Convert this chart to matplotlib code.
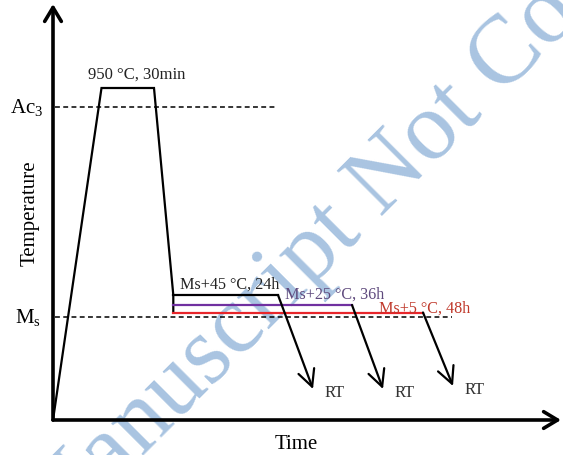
import matplotlib
matplotlib.use("Agg")
import matplotlib.pyplot as plt

plt.rcParams['font.family'] = ['Liberation Serif', 'DejaVu Serif']
plt.rcParams['mathtext.fontset'] = 'custom'
plt.rcParams['mathtext.rm'] = 'Liberation Serif'

# heat treatment schedule (schematic units: time -> right, temperature -> up)
heat_time = [0, 48.5, 101, 120.3, 120.3]
heat_temp = [0, 332, 332, 125, 107.5]

ac3_temp = 313
ms_temp = 103

hold_start = 120.3
hold_temp = [125, 115, 107.5]
hold_end = [225, 299, 370]
hold_colors = ['black', '#7030a0', '#e8262b']
hold_labels = ['Ms+45 °C, 24h', 'Ms+25 °C, 36h', 'Ms+5 °C, 48h']
label_colors = ['#222222', '#5f4a7d', '#c0392b']

rt_time = [260, 330, 400]
rt_temp = [31, 31, 34]

fig = plt.figure(figsize=(5.63, 4.56), dpi=100)
ax = fig.add_axes([0, 0, 1, 1])
ax.set_xlim(-53, 510)
ax.set_ylim(-35, 421)
ax.axis('off')

# watermark
ax.text(-3, -127, 'Manuscript Not Copyedited', rotation=45, rotation_mode='anchor',
        ha='left', va='baseline', fontsize=70, color='#a9c4e1', zorder=0)

# axes with arrows
arrow_axis = dict(arrowstyle='->,head_length=0.5,head_width=0.3', lw=2.6, color='black',
                  shrinkA=0, shrinkB=0, mutation_scale=20)
ax.annotate('', xy=(0, 416), xytext=(0, 0), arrowprops=arrow_axis)
ax.annotate('', xy=(508, 0), xytext=(0, 0), arrowprops=arrow_axis)

# critical temperatures
ax.plot([2, 222], [ac3_temp, ac3_temp], ls=(0, (3.2, 2.2)), color='black', lw=1.1)
ax.plot([2, 399], [ms_temp, ms_temp], ls=(0, (3.2, 2.2)), color='black', lw=1.1)

# austenitizing + quench
ax.plot(heat_time, heat_temp, color='black', lw=1.6, solid_joinstyle='miter')

# isothermal holds (longest first so the shorter ones sit on top)
for t, T, c in list(zip(hold_end, hold_temp, hold_colors))[::-1]:
    ax.plot([hold_start, t], [T, T], color=c, lw=1.6)

# cooling to room temperature
for t0, T0, t1, T1 in zip(hold_end, hold_temp, rt_time, rt_temp):
    ax.annotate('', xy=(t1, T1), xytext=(t0, T0),
                arrowprops=dict(arrowstyle='->,head_length=0.6,head_width=0.3', lw=1.6,
                                color='black', shrinkA=0, shrinkB=0, mutation_scale=20))
    ax.text(t1 + 12, T1 - 3, 'RT', fontsize=12, color='#333333', ha='left', va='center')

# labels
ax.text(83.5, 346, '950 °C, 30min', fontsize=12, color='#222222', ha='center', va='center')
ax.text(-10, ac3_temp, r'Ac$_\mathregular{3}$', fontsize=15, ha='right', va='center')
ax.text(-12, ms_temp, r'M$_\mathregular{s}$', fontsize=15, ha='right', va='center')
label_x = [127, 232, 326]
label_y = [136, 126, 112]
for x, y, s, c in zip(label_x, label_y, hold_labels, label_colors):
    ax.text(x, y, s, fontsize=11.6, color=c, ha='left', va='center')

ax.text(-23, 208, 'Temperature', fontsize=15, rotation=90, ha='center', va='center')
ax.text(243, -24, 'Time', fontsize=15, ha='center', va='center')

fig.savefig('out.png', dpi=100)
